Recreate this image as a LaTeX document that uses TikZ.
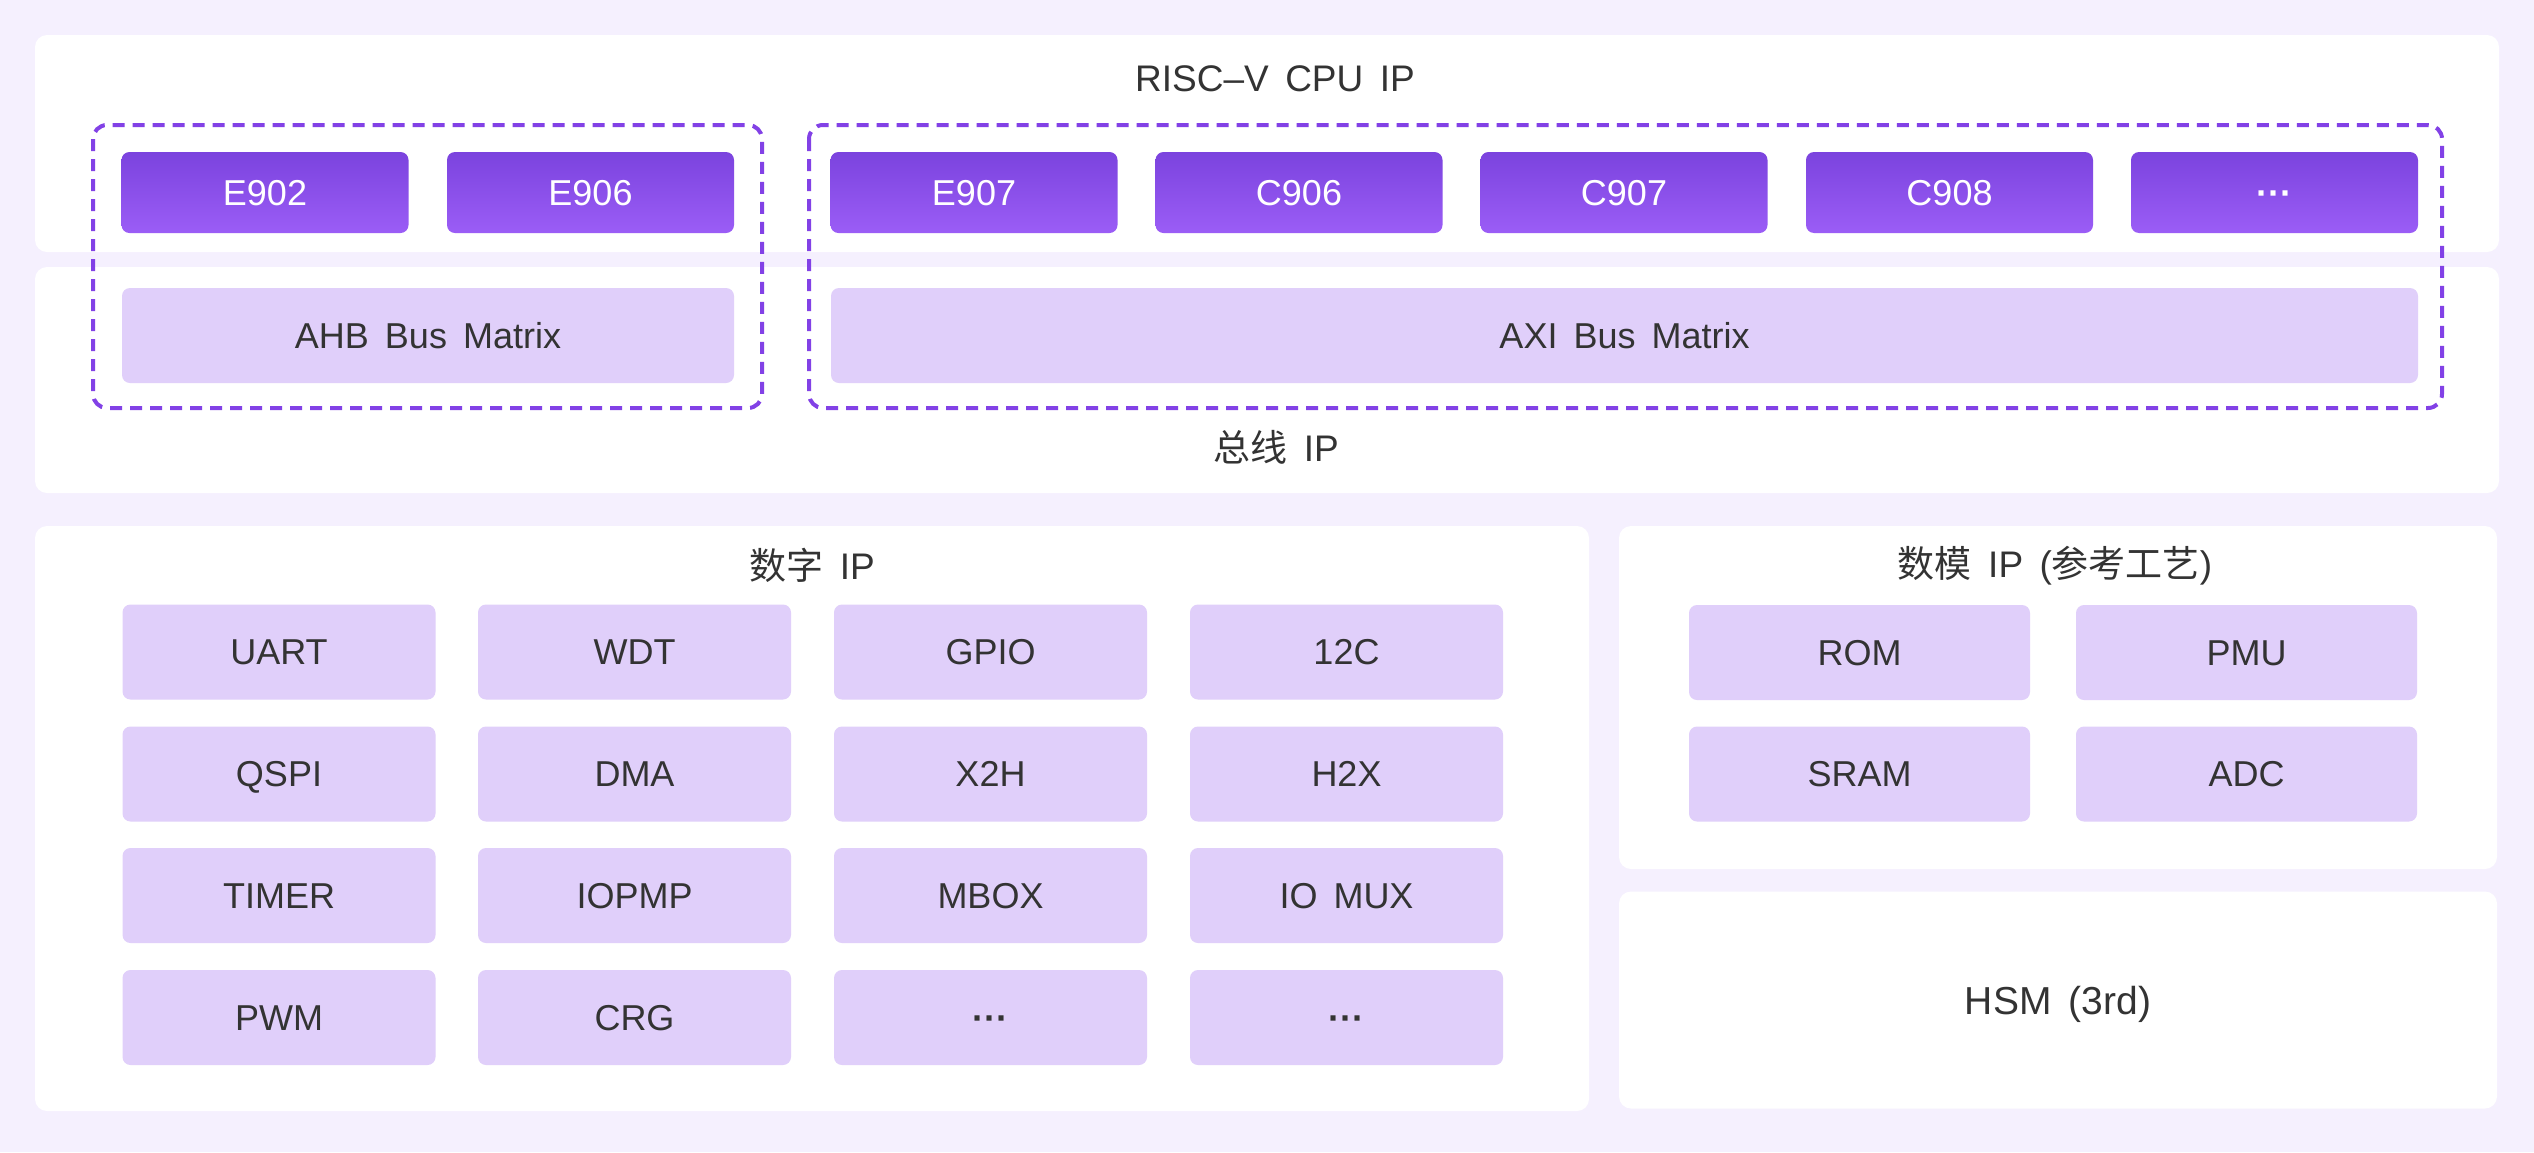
\documentclass[tikz,border=0pt]{standalone}
\usepackage{fontspec}
\setmainfont[WordSpace=1.6]{Liberation Sans}
\newfontfamily\cjk{Noto Sans CJK SC}
\definecolor{bgc}{HTML}{F5F0FE}
\definecolor{lightc}{HTML}{E0CFFA}
\definecolor{dtop}{HTML}{7B43DE}
\definecolor{dbot}{HTML}{9B5DF6}
\definecolor{dashc}{HTML}{8241E6}
\definecolor{txtc}{HTML}{333333}
\newcommand{\moredots}{{\bfseries\textperiodcentered\textperiodcentered\textperiodcentered}}
\tikzset{
  panel/.style={fill=white, rounded corners=12pt, inner sep=0pt, outer sep=0pt},
  lbl/.style={inner sep=0pt, font=\fontsize{36}{40}\selectfont, text height=25.8pt, text depth=0pt},
  lbox/.style={lbl, fill=lightc, rounded corners=8pt, text=txtc},
  dbox/.style={lbl, top color=dtop, bottom color=dbot, rounded corners=8pt, text=white, minimum width=287pt, minimum height=81pt},
  ttl/.style={text=txtc, font=\fontsize{37}{40}\selectfont, inner sep=0pt, text height=26.5pt, text depth=0pt},
  grp/.style={draw=dashc, line width=4pt, dash pattern=on 12pt off 8pt, rounded corners=14pt},
  dg/.style={lbox, minimum width=313pt, minimum height=95pt},
  ag/.style={lbox, minimum width=341pt, minimum height=95pt}
}
\begin{document}
\begin{tikzpicture}[x=1pt, y=-1pt]
\useasboundingbox (0,0) rectangle (2534,1152);
\fill[bgc] (0,0) rectangle (2534,1152);
% panels
\node[panel, minimum width=2464pt, minimum height=217pt] (cpupanel) at (1267,143.5) {};
\node[panel, minimum width=2464pt, minimum height=226pt] (buspanel) at (1267,380) {};
\node[panel, minimum width=1554pt, minimum height=585pt] (digpanel) at (812,818.5) {};
\node[panel, minimum width=878pt, minimum height=343pt] (anapanel) at (2058,697.5) {};
\node[panel, minimum width=878pt, minimum height=217pt, text=txtc, font=\fontsize{39}{44}\selectfont, text height=28pt, text depth=0pt] (hsm) at (2058,1000) {HSM (3rd)};
% titles
\node[ttl] (cputitle) at (1275,78) {RISC–V CPU IP};
\node[ttl] (bustitle) at (1276,448) {{\cjk 总线} IP};
\node[ttl] (digtitle) at (812,566) {{\cjk 数字} IP};
\node[ttl] (anatitle) at (2055,564) {{\cjk 数模} IP ({\cjk 参考工艺})};
% CPU cores
\node[dbox] (e902) at (265,192.5) {E902};
\node[dbox] (e906) at (590.5,192.5) {E906};
\node[dbox] (e907) at (974,192.5) {E907};
\node[dbox] (c906) at (1299,192.5) {C906};
\node[dbox] (c907) at (1624,192.5) {C907};
\node[dbox] (c908) at (1949.5,192.5) {C908};
\node[dbox] (cmore) at (2274.5,192.5) {\moredots};
% buses
\node[lbox, minimum width=612pt, minimum height=95pt] (ahb) at (428,335.5) {AHB Bus Matrix};
\node[lbox, minimum width=1587pt, minimum height=95pt] (axi) at (1624.5,335.5) {AXI Bus Matrix};
% dashed groups
\draw[grp] (93,125) rectangle (762,408);
\draw[grp] (809,125) rectangle (2442,408);
% digital IP
\node[dg] (uart) at (279,652) {UART};
\node[dg] (wdt) at (634.5,652) {WDT};
\node[dg] (gpio) at (990.5,652) {GPIO};
\node[dg] (iic) at (1346.5,652) {12C};
\node[dg] (qspi) at (279,774) {QSPI};
\node[dg] (dma) at (634.5,774) {DMA};
\node[dg] (x2h) at (990.5,774) {X2H};
\node[dg] (h2x) at (1346.5,774) {H2X};
\node[dg] (timer) at (279,895.5) {TIMER};
\node[dg] (iopmp) at (634.5,895.5) {IOPMP};
\node[dg] (mbox) at (990.5,895.5) {MBOX};
\node[dg] (iomux) at (1346.5,895.5) {IO MUX};
\node[dg] (pwm) at (279,1017.5) {PWM};
\node[dg] (crg) at (634.5,1017.5) {CRG};
\node[dg] (dmore1) at (990.5,1017.5) {\moredots};
\node[dg] (dmore2) at (1346.5,1017.5) {\moredots};
% analog IP
\node[ag] (rom) at (1859.5,652.5) {ROM};
\node[ag] (pmu) at (2246.5,652.5) {PMU};
\node[ag] (sram) at (1859.5,774) {SRAM};
\node[ag] (adc) at (2246.5,774) {ADC};
\end{tikzpicture}
\end{document}
